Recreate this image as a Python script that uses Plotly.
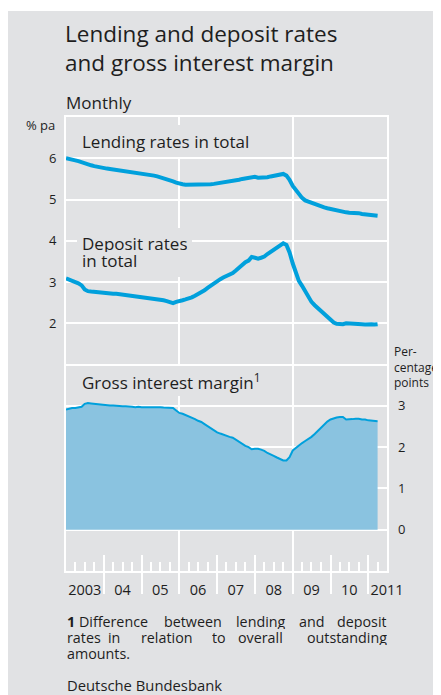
import pandas as pd
import plotly.graph_objects as go

BLUE = "#00a0dc"
FILL = "#8ac3e0"
PANEL = "#e1e2e4"
TEXT = "#1e1e1e"
FONT = "Open Sans, sans-serif"

# monthly, Jan 2003 - Apr 2011
MONTHS = pd.date_range("2003-01-01", periods=100, freq="MS")

LENDING = [
    6.00, 5.99, 5.97, 5.95, 5.93, 5.90, 5.87, 5.85, 5.83, 5.81, 5.79, 5.78,
    5.76, 5.75, 5.74, 5.73, 5.72, 5.70, 5.69, 5.68, 5.67, 5.65, 5.64, 5.64,
    5.62, 5.61, 5.60, 5.59, 5.58, 5.56, 5.54, 5.52, 5.50, 5.47, 5.44, 5.41,
    5.38, 5.37, 5.36, 5.36, 5.35, 5.35, 5.35, 5.36, 5.36, 5.37, 5.37, 5.38,
    5.39, 5.40, 5.41, 5.42, 5.43, 5.45, 5.46, 5.48, 5.50, 5.51, 5.52, 5.53,
    5.55, 5.53, 5.53, 5.53, 5.54, 5.56, 5.57, 5.58, 5.60, 5.62, 5.58, 5.48,
    5.33, 5.22, 5.14, 5.04, 4.98, 4.95, 4.91, 4.88, 4.85, 4.83, 4.81, 4.79,
    4.77, 4.75, 4.74, 4.72, 4.70, 4.69, 4.68, 4.68, 4.67, 4.67, 4.65, 4.64,
    4.63, 4.62, 4.61, 4.61,
]

DEPOSIT = [
    3.09, 3.05, 3.02, 3.00, 2.97, 2.92, 2.82, 2.78, 2.77, 2.76, 2.75, 2.74,
    2.73, 2.74, 2.73, 2.72, 2.72, 2.71, 2.70, 2.69, 2.68, 2.67, 2.67, 2.66,
    2.65, 2.64, 2.62, 2.61, 2.60, 2.58, 2.57, 2.56, 2.54, 2.51, 2.49, 2.52,
    2.55, 2.56, 2.58, 2.60, 2.63, 2.67, 2.71, 2.75, 2.80, 2.86, 2.92, 2.98,
    3.03, 3.07, 3.11, 3.14, 3.18, 3.22, 3.28, 3.35, 3.42, 3.48, 3.52, 3.61,
    3.59, 3.57, 3.59, 3.62, 3.68, 3.73, 3.78, 3.83, 3.89, 3.94, 3.90, 3.72,
    3.45, 3.20, 3.03, 2.91, 2.78, 2.62, 2.52, 2.44, 2.37, 2.30, 2.22, 2.14,
    2.07, 2.02, 1.99, 1.98, 1.98, 2.00, 2.00, 1.99, 1.98, 1.98, 1.98, 1.97,
    1.98, 1.98, 1.97, 1.98,
]

MARGIN = [
    2.91, 2.94, 2.95, 2.95, 2.96, 2.98, 3.05, 3.07, 3.06, 3.05, 3.04, 3.04,
    3.03, 3.01, 3.01, 3.01, 3.00, 2.99, 2.99, 2.99, 2.99, 2.98, 2.97, 2.98,
    2.97, 2.97, 2.98, 2.98, 2.98, 2.98, 2.97, 2.96, 2.96, 2.96, 2.95, 2.89,
    2.83, 2.81, 2.78, 2.76, 2.72, 2.68, 2.64, 2.61, 2.56, 2.51, 2.45, 2.40,
    2.36, 2.33, 2.30, 2.28, 2.25, 2.23, 2.18, 2.13, 2.08, 2.03, 2.00, 1.95,
    1.96, 1.96, 1.94, 1.91, 1.86, 1.83, 1.79, 1.75, 1.71, 1.68, 1.68, 1.76,
    1.92, 1.99, 2.05, 2.10, 2.15, 2.20, 2.25, 2.32, 2.40, 2.47, 2.55, 2.62,
    2.67, 2.70, 2.72, 2.73, 2.73, 2.67, 2.67, 2.68, 2.69, 2.69, 2.67, 2.67,
    2.65, 2.64, 2.64, 2.63,
]

YEARS = list(range(2003, 2012))
YEAR_LABELS = ["2003", "04", "05", "06", "07", "08", "09", "10", "2011"]
LEFT_TICKS = [2, 3, 4, 5, 6]
RIGHT_TICKS = [0, 1, 2, 3]

# page pixels (the page body adds an 8px offset)
OFF = 8
W, H = 441 - OFF, 695 - OFF
L, R, T, B = 66, 387, 117, 571
PW, PH = R - L, B - T
X_RANGE = ["2003-01-01", "2011-07-01"]


def px(x):
    return (x - L) / PW


def py(y):
    return (B - y) / PH


fig = go.Figure()

fig.add_trace(go.Scatter(
    x=MONTHS, y=MARGIN, yaxis="y2", mode="lines",
    line=dict(color=BLUE, width=2), fill="tozeroy", fillcolor=FILL,
    hoverinfo="skip", showlegend=False,
))
fig.add_trace(go.Scatter(
    x=MONTHS, y=LENDING, mode="lines",
    line=dict(color=BLUE, width=4), hoverinfo="skip", showlegend=False,
))
fig.add_trace(go.Scatter(
    x=MONTHS, y=DEPOSIT, mode="lines",
    line=dict(color=BLUE, width=4), hoverinfo="skip", showlegend=False,
))
# hidden copies so the tick-only axes get drawn
for xa in ("x2", "x3"):
    fig.add_trace(go.Scatter(
        x=MONTHS, y=LENDING, xaxis=xa, mode="lines", opacity=0,
        line=dict(width=0), hoverinfo="skip", showlegend=False,
    ))

fig.update_layout(
    width=W, height=H, autosize=False,
    margin=dict(l=L - OFF, r=W + OFF - R, t=T - OFF, b=H + OFF - B, pad=0),
    paper_bgcolor="white", plot_bgcolor="rgba(0,0,0,0)",
    font=dict(family=FONT, size=13, color=TEXT),
    showlegend=False,
    xaxis=dict(
        type="date", range=X_RANGE, tickvals=["2006-01-01", "2009-01-01"],
        showticklabels=False, ticks="", showgrid=True, gridcolor="white", gridwidth=2,
        showline=True, mirror=True, linecolor="white", linewidth=2, zeroline=False,
    ),
    xaxis2=dict(
        type="date", overlaying="x", anchor="y", range=X_RANGE,
        tickmode="linear", tick0="2003-01-01", dtick="M12",
        ticks="inside", ticklen=16, tickwidth=2, tickcolor="white",
        showticklabels=False, showgrid=False, zeroline=False,
        minor=dict(ticks="inside", ticklen=9, tickwidth=2, tickcolor="white",
                   tick0="2003-01-01", dtick="M3", showgrid=False),
    ),
    xaxis3=dict(
        type="date", overlaying="x", anchor="y", range=X_RANGE,
        tickvals=[f"{y}-07-01" for y in YEARS], ticktext=YEAR_LABELS,
        ticks="", tickfont=dict(size=14.5), ticklabelstandoff=8,
        showgrid=False, zeroline=False,
        minor=dict(ticks="outside", ticklen=22, tickwidth=2, tickcolor="white",
                   tickvals=[f"{y}-01-01" for y in YEARS[1:]], showgrid=False),
    ),
    yaxis=dict(
        range=[-4, 7], tickvals=LEFT_TICKS,
        ticks="", ticklabelstandoff=5, tickfont=dict(size=13),
        showgrid=True, gridcolor="white", gridwidth=2, zeroline=False,
        showline=True, mirror=True, linecolor="white", linewidth=2,
        minor=dict(tick0=0, dtick=1, showgrid=True, gridcolor="white", gridwidth=2),
    ),
    yaxis2=dict(
        overlaying="y", side="right", range=[-1, 10], tickvals=RIGHT_TICKS,
        ticks="", ticklabelstandoff=10, tickfont=dict(size=13),
        showgrid=False, zeroline=False, showline=False,
    ),
)

# grey panel behind everything
fig.add_shape(type="rect", xref="paper", yref="paper", layer="below",
              x0=px(OFF - 2), x1=px(W + OFF + 10), y0=py(H + OFF + 10), y1=py(11),
              fillcolor=PANEL, line=dict(width=0))

# grey patches behind the in-chart labels (they break the grid)
for x0, x1, y0, y1 in [(77, 258, 125, 157), (77, 192, 228, 277), (77, 266, 366, 396)]:
    fig.add_shape(type="rect", xref="paper", yref="paper", layer="above",
                  x0=px(x0), x1=px(x1), y0=py(y1), y1=py(y0),
                  fillcolor=PANEL, line=dict(width=0))


def note(text, x, y, size, xanchor="left", **kw):
    fig.add_annotation(text=text, xref="paper", yref="paper", x=px(x), y=py(y),
                       xanchor=xanchor, yanchor="middle", showarrow=False,
                       align="left", borderpad=0,
                       font=dict(size=size, family=FONT, color=TEXT), **kw)


note("Lending and deposit rates<br>and gross interest margin", 64, 48, 22.5)
note("Monthly", 65, 102, 17)
note("% pa", 56, 125, 13, xanchor="right")
note("Per-<br>centage<br>points", 393, 367, 12)

note("Lending rates in total", 81, 141, 17)
note("Deposit rates", 81, 243, 17, height=17)
note("in total", 81, 260, 17, height=17)
note("Gross interest margin<sup>1</sup>", 81, 381, 17)

# footnote, justified word by word
FOOT_1 = [("<b>1</b> Difference", 66), ("between", 163), ("lending", 235), ("and", 298)]
FOOT_2 = [("rates", 66), ("in", 107), ("relation", 140), ("to", 211), ("overall", 237)]
for word, x in FOOT_1:
    note(word, x, 621, 14.3, height=16)
note("deposit", 388, 621, 14.3, xanchor="right", height=16)
for word, x in FOOT_2:
    note(word, x, 637, 14.3, height=16)
note("outstanding", 388, 637, 14.3, xanchor="right", height=16)
note("amounts.", 66, 653, 14.3, height=16)
note("Deutsche Bundesbank", 66, 685, 14.8)

fig.write_html("out.html")
